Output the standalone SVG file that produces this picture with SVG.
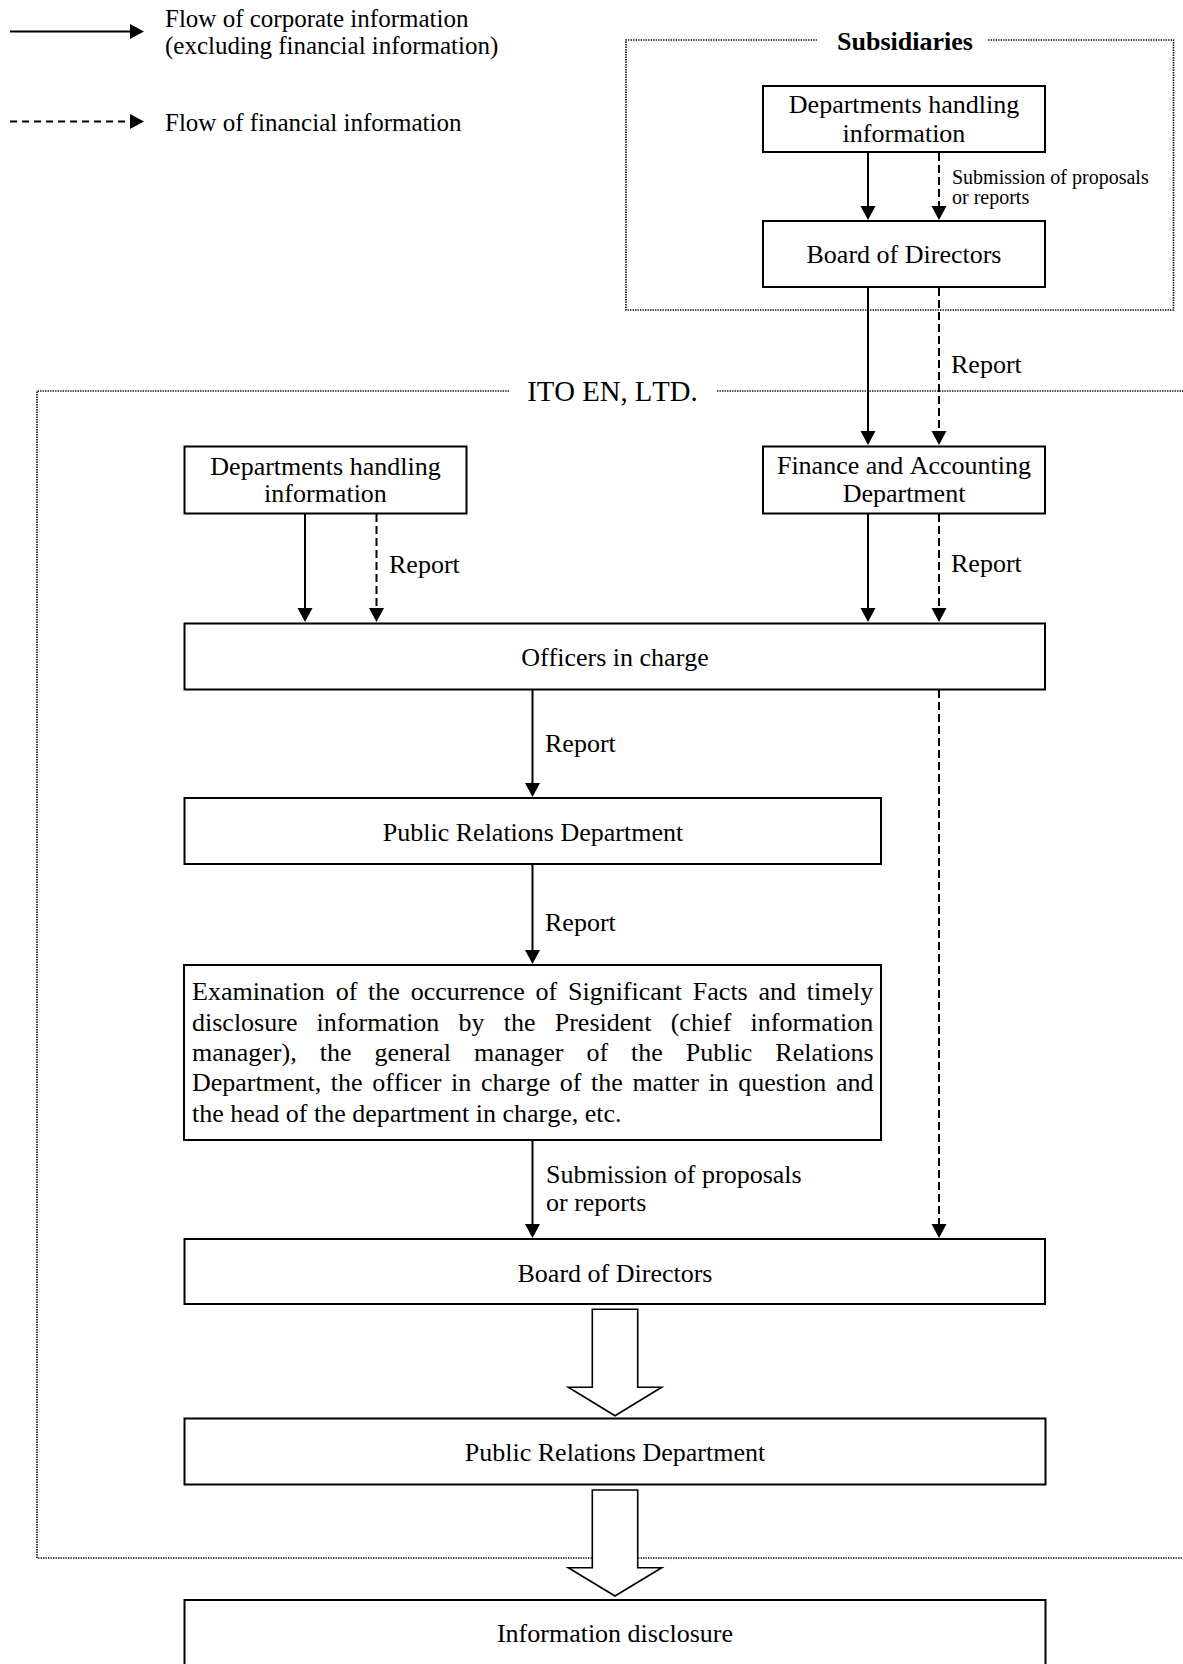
<svg xmlns="http://www.w3.org/2000/svg" width="1183" height="1664" viewBox="0 0 1183 1664">
<style>
  text { font-family: "Liberation Serif", "Times New Roman", serif; fill: #000; font-kerning: none; }
  .t26 { font-size: 26px; }
  .t20 { font-size: 20px; }
  .c { text-anchor: middle; }
  .box { fill: #fff; stroke: #000; stroke-width: 2; }
  .dot { fill: none; stroke: #111; stroke-width: 1.6; stroke-dasharray: 1.4 1.1; }
  .sol { fill: none; stroke: #000; stroke-width: 2; marker-end: url(#ah); }
  .dsh { fill: none; stroke: #000; stroke-width: 2; stroke-dasharray: 8 4; marker-end: url(#ah); }
  .big { fill: #fff; stroke: #000; stroke-width: 1.6; }
</style>
<defs>
  <marker id="ah" markerUnits="userSpaceOnUse" markerWidth="16" markerHeight="16" refX="1" refY="7.5" orient="auto">
    <path d="M0,0 L14,7.5 L0,15 z" fill="#000"/>
  </marker>
</defs>
<rect width="1183" height="1664" fill="#fff"/>

<g id="legend">
  <line x1="10" y1="31.5" x2="131" y2="31.5" class="sol"/>
  <text x="165" y="27" style="font-size:25px">Flow of corporate information</text>
  <text x="165" y="54" style="font-size:25px">(excluding financial information)</text>
  <line x1="10" y1="121.5" x2="131" y2="121.5" class="dsh" style="stroke-dasharray:7 5"/>
  <text x="165" y="131" style="font-size:25px">Flow of financial information</text>
</g>

<g id="subsidiaries-frame">
  <path class="dot" d="M817,40 H626 V310 H1173.5 V40 H987"/>
  <text x="905" y="50" class="t26 c" font-weight="bold">Subsidiaries</text>
</g>

<g id="itoen-frame">
  <path class="dot" d="M509,391 H37 V1558 H1183"/>
  <path class="dot" d="M717,391 H1183"/>
  <text x="612.5" y="400.5" class="c" style="font-size:28.7px">ITO EN, LTD.</text>
</g>

<g id="connectors">
  <line x1="868" y1="153" x2="868" y2="207" class="sol"/>
  <line x1="939" y1="153" x2="939" y2="207" class="dsh"/>
  <line x1="868" y1="288" x2="868" y2="432" class="sol"/>
  <line x1="939" y1="288" x2="939" y2="432" class="dsh"/>
  <line x1="305" y1="514" x2="305" y2="609" class="sol"/>
  <line x1="376.5" y1="514" x2="376.5" y2="609" class="dsh"/>
  <line x1="868" y1="514" x2="868" y2="609" class="sol"/>
  <line x1="939" y1="514" x2="939" y2="609" class="dsh"/>
  <line x1="532.5" y1="690" x2="532.5" y2="784" class="sol"/>
  <line x1="532.5" y1="865" x2="532.5" y2="951" class="sol"/>
  <line x1="532.5" y1="1140" x2="532.5" y2="1225" class="sol"/>
  <line x1="939" y1="690" x2="939" y2="1225" class="dsh"/>
  <polygon class="big" points="592.3,1309.3 637.7,1309.3 637.7,1387.3 661.7,1387.3 615,1415.7 568.3,1387.3 592.3,1387.3"/>
  <polygon class="big" points="592.3,1490 637.7,1490 637.7,1567.7 661.7,1567.7 615,1596 568.3,1567.7 592.3,1567.7"/>
  <text x="952" y="183.5" class="t20">Submission of proposals</text>
  <text x="952" y="204" class="t20">or reports</text>
  <text x="951" y="373" class="t26">Report</text>
  <text x="389" y="573" class="t26">Report</text>
  <text x="951" y="572" class="t26">Report</text>
  <text x="545" y="752" class="t26">Report</text>
  <text x="545" y="931" class="t26">Report</text>
  <text x="546" y="1183" class="t26">Submission of proposals</text>
  <text x="546" y="1210.5" class="t26">or reports</text>
</g>

<g id="sub-departments">
  <rect class="box" x="763" y="86" width="282" height="66"/>
  <text x="904" y="113" class="t26 c">Departments handling</text>
  <text x="904" y="141.5" class="t26 c">information</text>
</g>

<g id="sub-board">
  <rect class="box" x="763" y="221" width="282" height="66"/>
  <text x="904" y="263" class="t26 c">Board of Directors</text>
</g>

<g id="departments">
  <rect class="box" x="184.5" y="446.5" width="282" height="67"/>
  <text x="325.5" y="474.5" class="t26 c">Departments handling</text>
  <text x="325.5" y="502" class="t26 c">information</text>
</g>

<g id="finance">
  <rect class="box" x="763" y="446.5" width="282" height="67"/>
  <text x="904" y="474" class="t26 c">Finance and Accounting</text>
  <text x="904" y="502" class="t26 c">Department</text>
</g>

<g id="officers">
  <rect class="box" x="184.5" y="623.5" width="860.5" height="66"/>
  <text x="615" y="666" class="t26 c">Officers in charge</text>
</g>

<g id="pr1">
  <rect class="box" x="184.5" y="798" width="696.5" height="66"/>
  <text x="533" y="840.5" class="t26 c">Public Relations Department</text>
</g>

<g id="examination">
  <rect class="box" x="184" y="965" width="697" height="175"/>
  <text x="192" y="1000" class="t26" style="word-spacing:4.3px">Examination of the occurrence of Significant Facts and timely</text>
  <text x="192" y="1030.5" class="t26" style="word-spacing:12.7px">disclosure information by the President (chief information</text>
  <text x="192" y="1060.5" class="t26" style="word-spacing:16.5px">manager), the general manager of the Public Relations</text>
  <text x="192" y="1091" class="t26" style="word-spacing:3.1px">Department, the officer in charge of the matter in question and</text>
  <text x="192" y="1121.5" class="t26">the head of the department in charge, etc.</text>
</g>

<g id="board">
  <rect class="box" x="184.5" y="1239" width="860.5" height="65"/>
  <text x="615" y="1281.5" class="t26 c">Board of Directors</text>
</g>

<g id="pr2">
  <rect class="box" x="184.5" y="1418.5" width="861" height="66"/>
  <text x="615" y="1461" class="t26 c">Public Relations Department</text>
</g>

<g id="disclosure">
  <rect class="box" x="184.5" y="1600" width="861" height="100"/>
  <text x="615" y="1641.5" class="t26 c">Information disclosure</text>
</g>
</svg>
